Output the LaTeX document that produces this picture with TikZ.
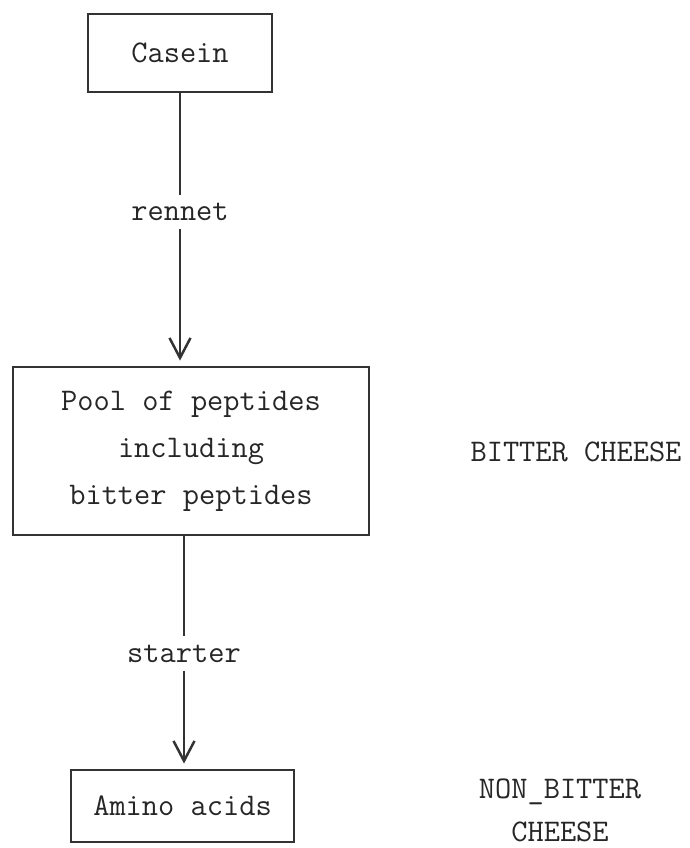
\documentclass[tikz,border=0pt]{standalone}
\usepackage{tikz}
\usetikzlibrary{arrows.meta}

\begin{document}
\begin{tikzpicture}[x=1pt,y=-1pt,
  every node/.style={font=\ttfamily\fontsize{31.5}{47}\selectfont,text=black!85},
  box/.style={draw=black!80,line width=2.8pt,inner sep=0pt,align=center},
  lbl/.style={inner sep=0pt,minimum height=34pt},
  flow/.style={draw=black!80,line width=2.5pt},
  tip/.style={-{Straight Barb[length=20pt,width=21pt]},shorten >=5pt}]
\useasboundingbox (0,0) rectangle (690,848);
\node[box,minimum width=184pt,minimum height=78pt] (casein) at (180,53) {Casein};
\node[lbl] (rennet) at (180,212) {rennet};
\node[box,minimum width=356pt,minimum height=168pt] (pool) at (191,451) {Pool of peptides\\including\\bitter peptides};
\node[lbl] (starter) at (184,653.5) {starter};
\node[box,minimum width=223pt,minimum height=72pt] (amino) at (182.5,806) {Amino acids};
\node (bitter) at (576,452) {BITTER CHEESE};
\node[align=center,font=\ttfamily\fontsize{31.5}{43}\selectfont] (nonbitter) at (560,810) {NON\_BITTER\\CHEESE};
\draw[flow] (casein.south -| rennet) -- (rennet.north);
\draw[flow,tip] (rennet.south) -- (rennet.south |- pool.north);
\draw[flow] (pool.south -| starter) -- (starter.north);
\draw[flow,tip] (starter.south) -- (starter.south |- amino.north);
\end{tikzpicture}
\end{document}
